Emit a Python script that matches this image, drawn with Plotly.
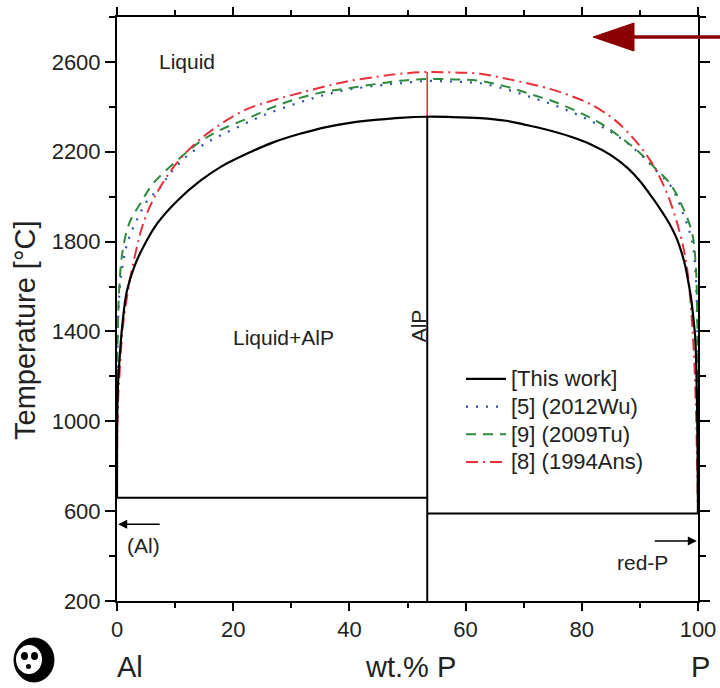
import plotly.graph_objects as go

# ---------------- data ----------------
# This work (liquidus)
tw_x = [0, 0.03, 0.15, 0.5, 1, 1.7, 3, 4.5, 6.9, 10.3, 14.3, 18, 22.9, 27, 31.5, 36, 40.1, 45, 48.7, 53.4,
        57, 62.5, 67, 70, 74, 78, 81.4, 85, 88, 90, 92.3, 93.5, 94.5, 95.5, 96.4, 97.2, 97.8, 98.3, 98.8, 99.2,
        99.5, 99.7, 99.85, 99.95, 100]
tw_T = [660, 1000, 1150, 1300, 1450, 1580, 1690, 1775, 1880, 1980, 2070, 2135, 2198, 2243, 2280, 2310, 2329, 2343, 2351, 2356,
        2355, 2350, 2338, 2322, 2298, 2268, 2235, 2185, 2125, 2070, 1990, 1945, 1905, 1860, 1810, 1750, 1692, 1625, 1550, 1460,
        1380, 1250, 1050, 800, 590]

# [5] (2012Wu)
wu_x = [0, 0.02, 0.1, 0.2, 0.5, 1, 1.9, 3.6, 5.2, 7.4, 9.1, 12, 16, 20, 25, 31.5, 36, 40.1, 45, 48.7, 53.4,
        58, 62.5, 67, 71, 75, 79, 83, 87, 90, 92.5, 95.5, 97.5, 99, 99.6, 99.85, 99.95, 100]
wu_T = [660, 1100, 1350, 1462, 1596, 1700, 1804, 1907, 1982, 2040, 2102, 2180, 2249, 2300, 2360, 2420, 2455, 2478, 2495, 2505, 2515,
        2512, 2505, 2478, 2445, 2410, 2368, 2318, 2255, 2190, 2125, 2040, 1920, 1800, 1650, 1450, 1150, 590]

# [9] (2009Tu)
tu_x = [0, 0.02, 0.1, 0.4, 0.9, 1.7, 2.5, 4, 6.2, 10.3, 14.3, 18, 22.4, 27, 31.5, 36, 40.1, 45, 48.7, 53.4,
        58, 62.5, 67, 71, 75, 79, 83, 87, 90, 92.5, 95.2, 97.4, 99, 99.6, 99.85, 99.95, 100]
tu_T = [660, 1100, 1350, 1600, 1747, 1849, 1905, 1969, 2058, 2160, 2245, 2300, 2347, 2400, 2440, 2468, 2484, 2503, 2516, 2524,
        2522, 2516, 2490, 2458, 2425, 2382, 2330, 2258, 2195, 2130, 2058, 1951, 1836, 1700, 1500, 1200, 590]

# [8] (1994Ans)
an_x = [0, 0.05, 0.2, 0.5, 1, 2.2, 3.4, 4.5, 6.5, 10.3, 15, 21.7, 27, 31.5, 36, 40.1, 45, 48.7, 53.4,
        58, 62.5, 68, 74.5, 78, 81.4, 85, 87.8, 91.7, 94.7, 96.9, 98.1, 99.1, 99.6, 99.85, 100]
an_T = [660, 950, 1100, 1240, 1420, 1627, 1773, 1880, 2000, 2151, 2270, 2382, 2430, 2462, 2492, 2516, 2535, 2547, 2555,
        2553, 2547, 2520, 2480, 2450, 2413, 2355, 2290, 2165, 2013, 1836, 1684, 1391, 1100, 800, 590]

# invariant lines
alp_x = 53.4
eut_left_x = [0, 53.4]
eut_left_T = [660, 660]
eut_right_x = [53.4, 100]
eut_right_T = [590, 590]
alp_line_T = [200, 2356]
alp_red_T = [2356, 2555]

legend_names = ["[This work]", "[5] (2012Wu)", "[9] (2009Tu)", "[8] (1994Ans)"]
x_ticks = [0, 20, 40, 60, 80, 100]
y_ticks = [200, 600, 1000, 1400, 1800, 2200, 2600]

FONT = "Liberation Sans, Arial, sans-serif"
TXT = "#222"
BLUE = "#2b50a8"
GREEN = "#2e8b3e"
RED = "#e8303a"


def lg(name):
    return f'<span style="font-size:22px">{name}</span>'


fig = go.Figure()

# black invariant lines (no legend)
for xs, ts in [(eut_left_x, eut_left_T), (eut_right_x, eut_right_T), ([alp_x, alp_x], alp_line_T)]:
    fig.add_trace(go.Scatter(x=xs, y=ts, mode="lines", line=dict(color="black", width=2),
                             showlegend=False, hoverinfo="skip"))
fig.add_trace(go.Scatter(x=[alp_x, alp_x], y=alp_red_T, mode="lines",
                         line=dict(color=RED, width=1.6), showlegend=False, hoverinfo="skip"))

SM = 1.0
# literature curves
fig.add_trace(go.Scatter(x=wu_x, y=wu_T, mode="lines", name=lg(legend_names[1]), legendrank=2,
                         line=dict(color=BLUE, width=2.2, dash="2px,8px", shape="spline", smoothing=SM)))
fig.add_trace(go.Scatter(x=tu_x, y=tu_T, mode="lines", name=lg(legend_names[2]), legendrank=3,
                         line=dict(color=GREEN, width=2, dash="10px,7px", shape="spline", smoothing=SM)))
fig.add_trace(go.Scatter(x=an_x, y=an_T, mode="lines", name=lg(legend_names[3]), legendrank=4,
                         line=dict(color=RED, width=2, dash="12px,5px,2px,5px", shape="spline", smoothing=SM)))
# this work
fig.add_trace(go.Scatter(x=tw_x, y=tw_T, mode="lines", name=lg(legend_names[0]), legendrank=1,
                         line=dict(color="black", width=2.2, shape="spline", smoothing=SM)))

axis_common = dict(showline=True, linecolor="black", linewidth=2, mirror="ticks",
                   ticks="outside", tickcolor="black", tickwidth=1.5,
                   showgrid=False, zeroline=False, automargin=False,
                   tickfont=dict(family=FONT, size=22, color=TXT))

fig.update_xaxes(range=[0, 100], tickvals=x_ticks, ticklen=8,
                 minor=dict(dtick=10, tick0=0, ticklen=5, ticks="outside", tickcolor="black", tickwidth=1.5),
                 **axis_common)
fig.update_yaxes(range=[200, 2800], tickvals=y_ticks, ticklen=10,
                 minor=dict(dtick=200, tick0=200, ticklen=6, ticks="outside", tickcolor="black", tickwidth=1.5),
                 **axis_common)


def px(x):
    return (x - 117) / 581


def py(y):
    return (601 - y) / 584


ann = []
txt = dict(family=FONT, size=21, color=TXT)
ann.append(dict(x=12.1, y=2600, xref="x", yref="y", text="Liquid", showarrow=False, font=txt))
ann.append(dict(x=28.7, y=1373, xref="x", yref="y", text="Liquid+AlP", showarrow=False, font=txt))
ann.append(dict(x=51.8, y=1427, xref="x", yref="y", text="AlP", showarrow=False, font=txt, textangle=-90))
ann.append(dict(x=4.6, y=449, xref="x", yref="y", text="(Al)", showarrow=False, font=txt))
ann.append(dict(x=90.4, y=373, xref="x", yref="y", text="red-P", showarrow=False, font=txt))
# small arrows
ann.append(dict(x=0.2, y=542, ax=7.6, ay=542, xref="x", yref="y", axref="x", ayref="y", text="",
                showarrow=True, arrowhead=2, arrowsize=1.2, arrowwidth=1.5, arrowcolor="black"))
ann.append(dict(x=99.8, y=467, ax=92.3, ay=467, xref="x", yref="y", axref="x", ayref="y", text="",
                showarrow=True, arrowhead=2, arrowsize=1.2, arrowwidth=1.5, arrowcolor="black"))
# axis titles
big = dict(family=FONT, size=29, color=TXT)
ann.append(dict(x=px(25), y=py(330), xref="paper", yref="paper", text="Temperature [°C]", showarrow=False,
                xanchor="center", yanchor="middle", textangle=-90, font=dict(family=FONT, size=29, color=TXT)))
for label, cx in [("Al", 130), ("wt.% P", 410), ("P", 700)]:
    ann.append(dict(x=px(cx), y=py(667), xref="paper", yref="paper", text=label, showarrow=False,
                    xanchor="center", yanchor="middle", font=big))

shapes = []
DR = "#8b0000"
# big dark-red arrow at top right
shapes.append(dict(type="path", xref="paper", yref="paper",
                   path=f"M {px(593)} {py(37)} L {px(634)} {py(23)} L {px(634)} {py(51)} Z",
                   fillcolor=DR, line=dict(color=DR, width=1)))
shapes.append(dict(type="line", xref="paper", yref="paper", x0=px(630), y0=py(37), x1=px(722), y1=py(37),
                   line=dict(color=DR, width=3.5)))
# panda logo approximation
shapes.append(dict(type="circle", xref="paper", yref="paper", x0=px(14), x1=px(54), y0=py(682), y1=py(638),
                   fillcolor="black", line=dict(color="black", width=1)))
shapes.append(dict(type="circle", xref="paper", yref="paper", x0=px(16), x1=px(42), y0=py(674), y1=py(645),
                   fillcolor="white", line=dict(color="white", width=0)))
shapes.append(dict(type="circle", xref="paper", yref="paper", x0=px(21), x1=px(28), y0=py(660), y1=py(652),
                   fillcolor="black", line=dict(color="black", width=0)))
shapes.append(dict(type="circle", xref="paper", yref="paper", x0=px(31), x1=px(38), y0=py(660), y1=py(652),
                   fillcolor="black", line=dict(color="black", width=0)))
shapes.append(dict(type="circle", xref="paper", yref="paper", x0=px(26), x1=px(31), y0=py(669), y1=py(664),
                   fillcolor="black", line=dict(color="black", width=0)))

fig.update_layout(
    width=720, height=688, autosize=False,
    margin=dict(l=117, r=22, t=17, b=87, autoexpand=False),
    paper_bgcolor="white", plot_bgcolor="white",
    font=dict(family=FONT, color=TXT),
    legend=dict(x=px(461), y=py(360), xanchor="left", yanchor="top",
                bgcolor="rgba(0,0,0,0)", borderwidth=0,
                font=dict(family=FONT, size=19, color=TXT),
                itemwidth=40, tracegroupgap=0),
    annotations=ann,
    shapes=shapes,
)

fig.write_html("out.html")
